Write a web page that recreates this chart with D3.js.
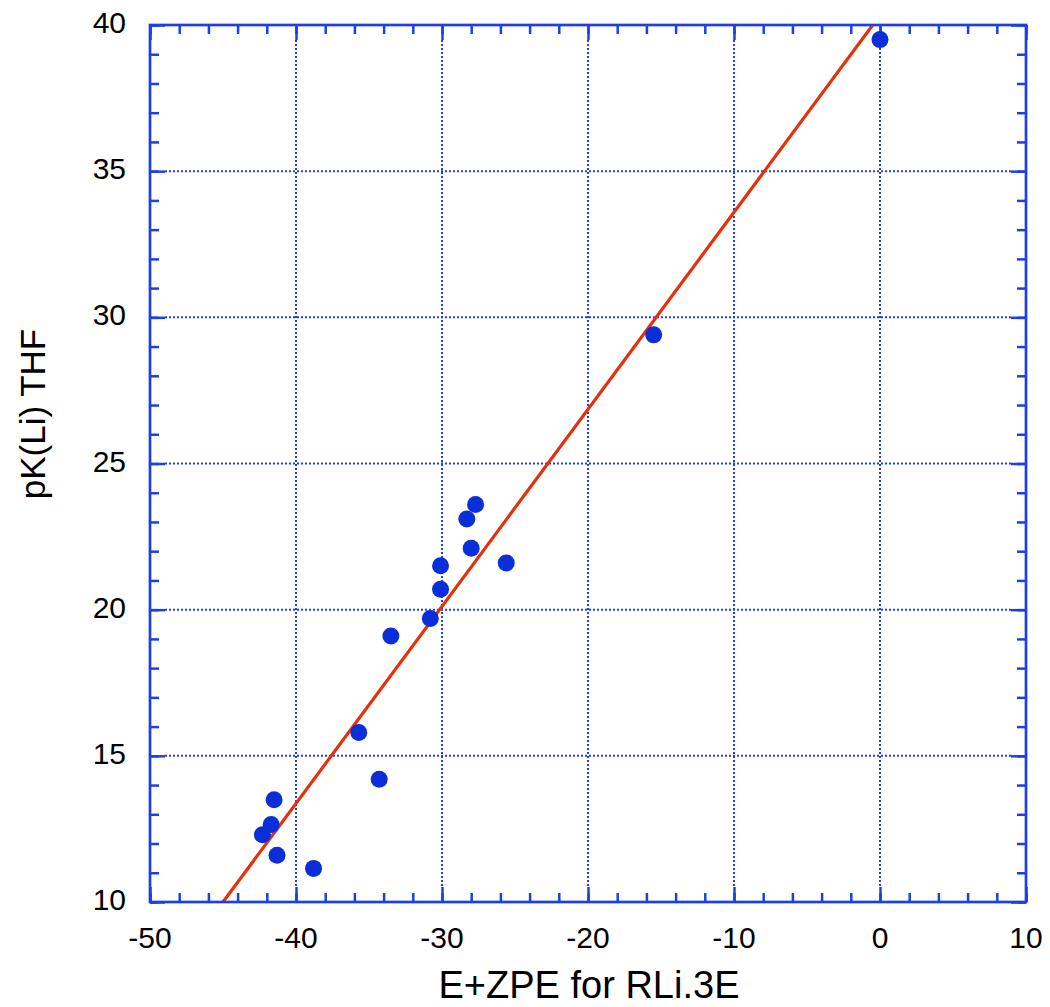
<!DOCTYPE html>
<html>
<head>
<meta charset="utf-8">
<script src="https://cdn.jsdelivr.net/npm/d3@7"></script>
<style>
  html, body { margin: 0; padding: 0; background: #fff; }
  svg { display: block; }
  text { font-family: "Liberation Sans", Arial, Helvetica, sans-serif; fill: #000; }
</style>
</head>
<body>
<svg id="chart" width="1050" height="1007"></svg>
<script>
// ---- data ----
const energy = [0.0, -15.5, -27.7, -28.3, -28.0, -25.6, -30.1, -30.1, -30.8, -33.5, -35.7, -34.3, -41.5, -41.7, -42.3, -41.3, -38.8];
const pK     = [39.5, 29.4, 23.6, 23.1, 22.1, 21.6, 21.5, 20.7, 19.7, 19.1, 15.8, 14.2, 13.5, 12.65, 12.3, 11.6, 11.15];
const fitX = [-45.0, -0.5];
const fitY = [10.0, 40.0];
const xTickValues = [-50, -40, -30, -20, -10, 0, 10];
const yTickValues = [10, 15, 20, 25, 30, 35, 40];
const xLabel = "E+ZPE for RLi.3E";
const yLabel = "pK(Li) THF";

// ---- layout ----
const svg = d3.select("#chart");
const L = 150, R = 1026, T = 25, B = 902;
const x = d3.scaleLinear().domain([-50, 10]).range([L, R]);
const y = d3.scaleLinear().domain([10, 40]).range([B, T]);
const axisColor = "#1f3fe6";
const ptColor = "#0a2fd9";
const lineColor = "#e6300c";

// gridlines
const grid = svg.append("g");
grid.selectAll("line.gx").data(xTickValues.filter(v => v > -50 && v < 10)).join("line")
  .attr("x1", d => x(d)).attr("x2", d => x(d)).attr("y1", T + 15).attr("y2", B - 15)
  .attr("stroke", axisColor).attr("stroke-width", 2).attr("stroke-dasharray", "2,2");
grid.selectAll("line.gy").data(yTickValues.filter(v => v > 10 && v < 40)).join("line")
  .attr("y1", d => y(d)).attr("y2", d => y(d)).attr("x1", L + 15).attr("x2", R - 15)
  .attr("stroke", axisColor).attr("stroke-width", 2).attr("stroke-dasharray", "2,2");

// axes via d3 with inward ticks
const xMinor = d3.range(-50, 10.001, 2);
const yMinor = d3.range(10, 40.001, 1);
function addAxis(axisGen, transform) {
  const g = svg.append("g").attr("transform", transform).call(axisGen);
  g.select(".domain").remove();
  g.selectAll("line").attr("stroke", axisColor).attr("stroke-width", 2.5);
  g.selectAll("text").remove();
  return g;
}
addAxis(d3.axisBottom(x).tickValues(xMinor).tickSize(-9), `translate(0,${B})`);
addAxis(d3.axisBottom(x).tickValues(xTickValues).tickSize(-15), `translate(0,${B})`);
addAxis(d3.axisTop(x).tickValues(xMinor).tickSize(-9), `translate(0,${T})`);
addAxis(d3.axisTop(x).tickValues(xTickValues).tickSize(-15), `translate(0,${T})`);
addAxis(d3.axisLeft(y).tickValues(yMinor).tickSize(-9), `translate(${L},0)`);
addAxis(d3.axisLeft(y).tickValues(yTickValues).tickSize(-15), `translate(${L},0)`);
addAxis(d3.axisRight(y).tickValues(yMinor).tickSize(-9), `translate(${R},0)`);
addAxis(d3.axisRight(y).tickValues(yTickValues).tickSize(-15), `translate(${R},0)`);

// tick labels
svg.append("g").selectAll("text").data(xTickValues).join("text")
  .attr("x", d => x(d)).attr("y", 948).attr("text-anchor", "middle")
  .attr("font-size", 30).text(d => d);
svg.append("g").selectAll("text").data(yTickValues).join("text")
  .attr("x", 126).attr("y", d => y(d) + 8).attr("text-anchor", "end")
  .attr("font-size", 30).text(d => d);

// clip
svg.append("clipPath").attr("id", "clip").append("rect")
  .attr("x", L).attr("y", T).attr("width", R - L).attr("height", B - T);

// fit line
const fitData = fitX.map((v, i) => [v, fitY[i]]);
svg.append("path").datum(fitData).attr("clip-path", "url(#clip)")
  .attr("d", d3.line().x(d => x(d[0])).y(d => y(d[1])))
  .attr("fill", "none").attr("stroke", lineColor).attr("stroke-width", 3.2);

// points
svg.append("g").selectAll("circle").data(energy.map((v, i) => [v, pK[i]])).join("circle")
  .attr("cx", d => x(d[0])).attr("cy", d => y(d[1])).attr("r", 8.5)
  .attr("fill", ptColor);

// frame
svg.append("rect").attr("x", L).attr("y", T).attr("width", R - L).attr("height", B - T)
  .attr("fill", "none").attr("stroke", axisColor).attr("stroke-width", 2.7);

// axis titles
svg.append("text").attr("x", 589).attr("y", 998).attr("text-anchor", "middle")
  .attr("font-size", 38).text(xLabel);
svg.append("text").attr("transform", `translate(45,414) rotate(-90)`)
  .attr("text-anchor", "middle").attr("font-size", 35).text(yLabel);
</script>
</body>
</html>
